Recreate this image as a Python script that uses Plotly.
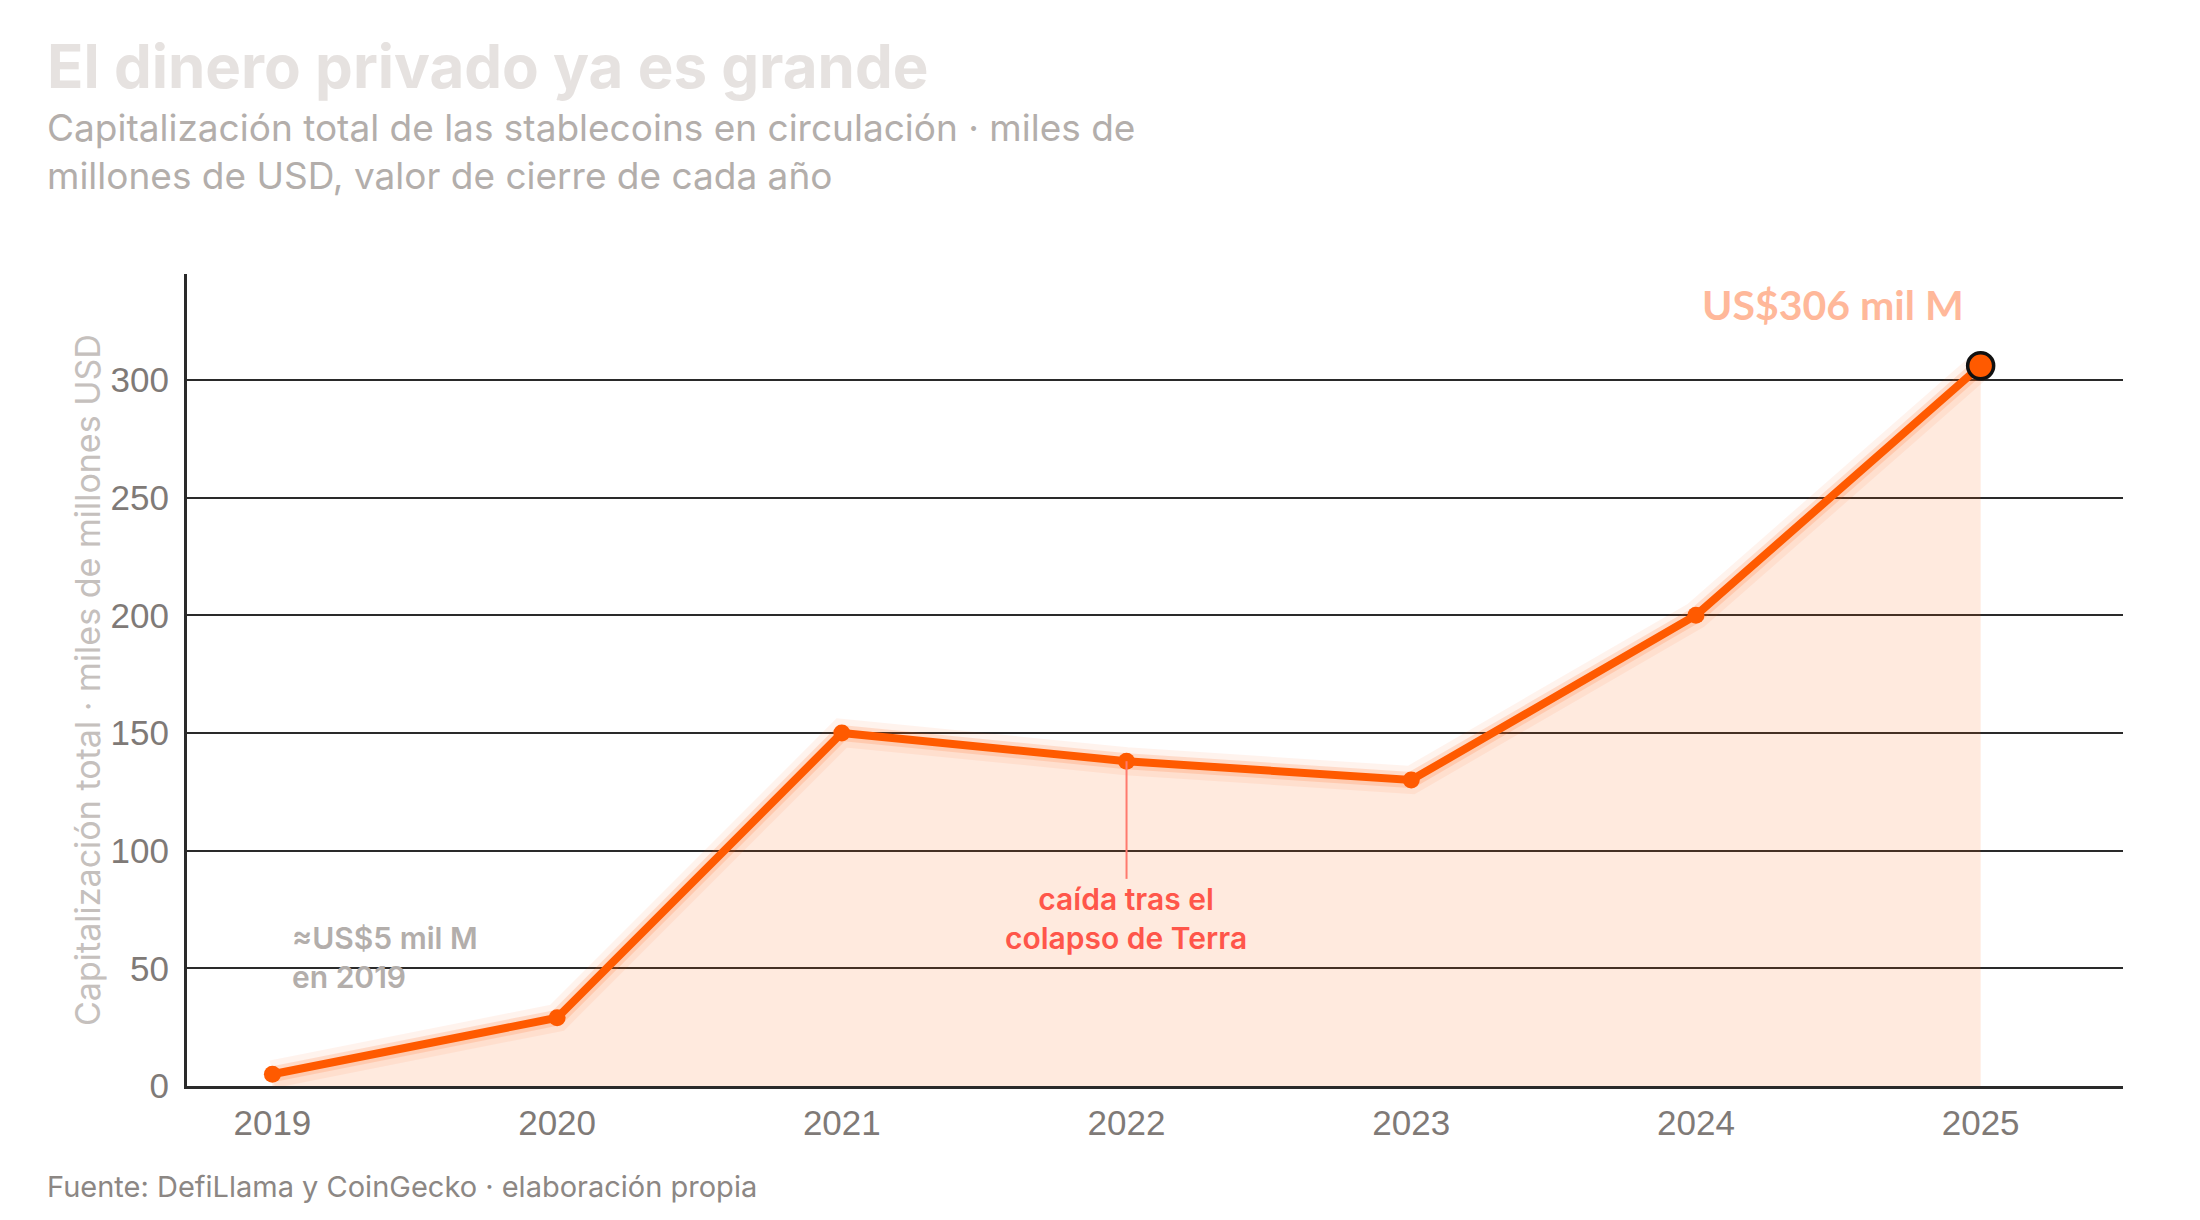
import plotly.graph_objects as go

# ---------------- data ----------------
years = [2019, 2020, 2021, 2022, 2023, 2024, 2025]
cap_bn = [5, 29, 150, 138, 130, 200, 306]          # miles de millones USD
y_tick_vals = [0, 50, 100, 150, 200, 250, 300]
x_tick_labels = ["2019", "2020", "2021", "2022", "2023", "2024", "2025"]

title_text = "El dinero privado ya es grande"
subtitle_text = ("Capitalización total de las stablecoins en circulación · miles de<br>"
                 "millones de USD, valor de cierre de cada año")
ytitle_text = "Capitalización total · miles de millones USD"
source_text = "Fuente: DefiLlama y CoinGecko · elaboración propia"
note_start = "≈US$5 mil M<br>en 2019"
note_terra = "caída tras el<br>colapso de Terra"
terra_year = 2022
terra_line_bottom = 88
end_label = "US$306 mil M"

# ---------------- layout geometry ----------------
W, H = 2200, 1220
L, R, T, B = 187, 77, 274, 134
PW, PH = W - L - R, H - T - B


def px(x):
    return (x - L) / PW


def py(y):
    return (H - B - y) / PH


ORANGE = "#ff5a00"
TEXT_FONT = "Inter"
TICK_FONT = "Liberation Sans"

fig = go.Figure()

# area fill
fig.add_trace(go.Scatter(
    x=years, y=cap_bn, mode="lines", line=dict(width=0, color=ORANGE),
    fill="tozeroy", fillcolor="rgba(255,90,0,0.13)", hoverinfo="skip", showlegend=False))
# glow
fig.add_trace(go.Scatter(
    x=years, y=cap_bn, mode="lines", line=dict(width=28, color="rgba(255,90,0,0.07)"),
    hoverinfo="skip", showlegend=False))
fig.add_trace(go.Scatter(
    x=years, y=cap_bn, mode="lines", line=dict(width=16, color="rgba(255,90,0,0.15)"),
    hoverinfo="skip", showlegend=False))
# main line
fig.add_trace(go.Scatter(
    x=years, y=cap_bn, mode="lines+markers",
    line=dict(width=8, color=ORANGE),
    marker=dict(size=17, color=ORANGE),
    showlegend=False))
# end marker
fig.add_trace(go.Scatter(
    x=years[-1:], y=cap_bn[-1:], mode="markers",
    marker=dict(size=26, color=ORANGE, line=dict(color="#111111", width=3.5)),
    showlegend=False))

# terra connector line
fig.add_shape(type="line", xref="x", yref="y",
              x0=terra_year, x1=terra_year,
              y0=cap_bn[years.index(terra_year)], y1=terra_line_bottom,
              line=dict(color="#ff7a6e", width=2))

annos = []
annos.append(dict(text=title_text, x=px(45), y=py(66), xref="paper", yref="paper",
                  xanchor="left", yanchor="middle", showarrow=False, align="left",
                  font=dict(family=TEXT_FONT, size=60, color="#e6e2e0", weight=700)))
annos.append(dict(text=subtitle_text, x=px(45), y=py(152), xref="paper", yref="paper",
                  xanchor="left", yanchor="middle", showarrow=False, align="left",
                  font=dict(family=TEXT_FONT, size=37, color="#b3aeab")))
annos.append(dict(text=source_text, x=px(45), y=py(1186), xref="paper", yref="paper",
                  xanchor="left", yanchor="middle", showarrow=False, align="left",
                  font=dict(family=TEXT_FONT, size=29, color="#8c8784")))
annos.append(dict(text=ytitle_text, x=px(87), y=py(680), xref="paper", yref="paper",
                  xanchor="center", yanchor="middle", showarrow=False, textangle=-90,
                  font=dict(family=TEXT_FONT, size=34, color="#c5c0bd")))
annos.append(dict(text=end_label, x=px(1833), y=py(304), xref="paper", yref="paper",
                  xanchor="center", yanchor="middle", showarrow=False,
                  font=dict(family="Lato", size=41, color="#ffb89a", weight=700)))
annos.append(dict(text=note_start, x=px(290), y=py(957), xref="paper", yref="paper",
                  xanchor="left", yanchor="middle", showarrow=False, align="left",
                  font=dict(family=TEXT_FONT, size=30, color="#b3aeab", weight=600)))
annos.append(dict(text=note_terra, x=px(1126), y=py(918), xref="paper", yref="paper",
                  xanchor="center", yanchor="middle", showarrow=False, align="center",
                  font=dict(family=TEXT_FONT, size=30, color="#ff564a", weight=600)))

fig.update_layout(
    width=W, height=H,
    margin=dict(l=L, r=R, t=T, b=B, pad=0),
    paper_bgcolor="white", plot_bgcolor="white",
    annotations=annos,
    showlegend=False,
    hovermode=False,
)
fig.update_xaxes(
    range=[2018.7, 2025.5], tickvals=years, ticktext=x_tick_labels,
    showgrid=False, zeroline=False,
    showline=True, linecolor="#2a2a2a", linewidth=3,
    ticks="", ticklabelstandoff=4,
    tickfont=dict(family=TICK_FONT, size=35, color="#7f7a77"))
fig.update_yaxes(
    range=[0, 345], tickvals=y_tick_vals,
    showgrid=True, gridcolor="#2a2a2a", gridwidth=1.6,
    zeroline=False,
    showline=True, linecolor="#2a2a2a", linewidth=3,
    ticks="", ticklabelstandoff=8,
    tickfont=dict(family=TICK_FONT, size=35, color="#7f7a77"))

fig.write_html("out.html")
